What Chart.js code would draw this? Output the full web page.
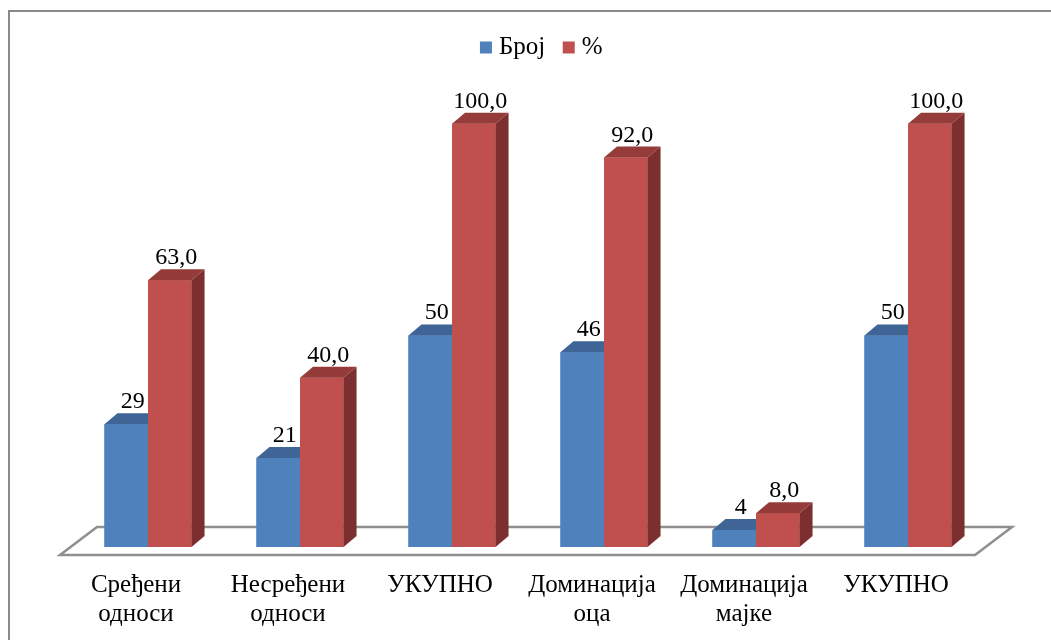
<!DOCTYPE html>
<html>
<head>
<meta charset="utf-8">
<script src="https://cdn.jsdelivr.net/npm/chart.js@4"></script>
<style>
  html, body { margin: 0; padding: 0; background: #fff; overflow: hidden; }
  #wrap { position: relative; width: 1051px; height: 640px; }
  #frame { position: absolute; left: 8px; top: 10px; width: 1100px; height: 700px;
           border: 2px solid #8a8a8a; box-sizing: border-box; pointer-events: none; }
</style>
</head>
<body>
<div id="wrap">
  <canvas id="c" width="1051" height="640"></canvas>
  <div id="frame"></div>
</div>
<script>
const categories = [
  ['Сређени', 'односи'],
  ['Несређени', 'односи'],
  ['УКУПНО'],
  ['Доминација', 'оца'],
  ['Доминација', 'мајке'],
  ['УКУПНО']
];
const seriesNames = ['Број', '%'];
const countValues = [29, 21, 50, 46, 4, 50];
const percentValues = [63.0, 40.0, 100.0, 92.0, 8.0, 100.0];

const FONT = "'Liberation Serif', 'Times New Roman', serif";
const DX = 13, DY = 11;
const frontColors = ['#4F81BD', '#C0504D'];
const faceColors = [
  { top: '#3E6596', side: '#345583' },
  { top: '#953C3A', side: '#7C2F2E' }
];

const bars3d = {
  id: 'bars3d',
  afterLayout(chart) {
    const lg = chart.legend;
    if (lg) { lg.left += 16; lg.right += 16; }
  },
  beforeDatasetsDraw(chart) {
    const { ctx, chartArea: a } = chart;
    const fy = a.bottom + 8, by = a.bottom - 20;
    ctx.save();
    ctx.beginPath();
    ctx.moveTo(a.left - 12, fy);
    ctx.lineTo(a.right - 9, fy);
    ctx.lineTo(a.right + 28, by);
    ctx.lineTo(a.left + 25, by);
    ctx.closePath();
    ctx.fillStyle = '#ffffff';
    ctx.fill();
    ctx.lineWidth = 2.5;
    ctx.strokeStyle = '#8f8f8f';
    ctx.stroke();
    ctx.restore();
  },
  afterDatasetsDraw(chart) {
    const { ctx } = chart;
    ctx.save();
    chart.data.datasets.forEach((ds, i) => {
      const col = faceColors[i];
      chart.getDatasetMeta(i).data.forEach(bar => {
        const p = bar.getProps(['x', 'y', 'base', 'width'], true);
        const x0 = p.x - p.width / 2, x1 = p.x + p.width / 2;
        const top = p.y, bot = p.base;
        ctx.fillStyle = frontColors[i];
        ctx.fillRect(x0, top, x1 - x0, bot - top);
        ctx.beginPath();
        ctx.moveTo(x0, top);
        ctx.lineTo(x1, top);
        ctx.lineTo(x1 + DX, top - DY);
        ctx.lineTo(x0 + DX, top - DY);
        ctx.closePath();
        ctx.fillStyle = col.top;
        ctx.fill();
        ctx.beginPath();
        ctx.moveTo(x1, top);
        ctx.lineTo(x1 + DX, top - DY);
        ctx.lineTo(x1 + DX, bot - DY);
        ctx.lineTo(x1, bot);
        ctx.closePath();
        ctx.fillStyle = col.side;
        ctx.fill();
      });
    });
    ctx.fillStyle = '#000';
    ctx.font = '24px ' + FONT;
    ctx.textAlign = 'center';
    ctx.textBaseline = 'alphabetic';
    chart.data.datasets.forEach((ds, i) => {
      chart.getDatasetMeta(i).data.forEach((bar, j) => {
        const v = ds.data[j];
        const txt = i === 0 ? String(v) : v.toFixed(1).replace('.', ',');
        ctx.fillText(txt, bar.x + DX / 2, bar.y - DY - 5);
      });
    });
    ctx.restore();
  }
};

new Chart(document.getElementById('c'), {
  type: 'bar',
  data: {
    labels: categories,
    datasets: [
      { label: seriesNames[0], data: countValues, backgroundColor: frontColors[0], borderWidth: 0, pointStyle: 'rect' },
      { label: seriesNames[1], data: percentValues, backgroundColor: frontColors[1], borderWidth: 0, pointStyle: 'rect' }
    ]
  },
  options: {
    responsive: false,
    animation: false,
    events: [],
    layout: { padding: { left: 72, right: 67, top: 12, bottom: 0 } },
    datasets: { bar: { categoryPercentage: 0.573, barPercentage: 1.0 } },
    scales: {
      x: {
        grid: { display: false, drawTicks: false },
        border: { display: false },
        ticks: { color: '#000', font: { family: FONT, size: 25, lineHeight: 1.15 }, padding: 24,
                 labelOffset: -12, maxRotation: 0, autoSkip: false },
        afterFit(scale) { scale.height = 93; }
      },
      y: { display: false, min: 0, max: 112.7 }
    },
    plugins: {
      legend: {
        position: 'top',
        labels: { color: '#000', font: { family: FONT, size: 25 }, usePointStyle: true, pointStyle: 'rect',
                  boxWidth: 1, boxHeight: 12, padding: 23 }
      },
      tooltip: { enabled: false }
    }
  },
  plugins: [bars3d]
});
</script>
</body>
</html>
